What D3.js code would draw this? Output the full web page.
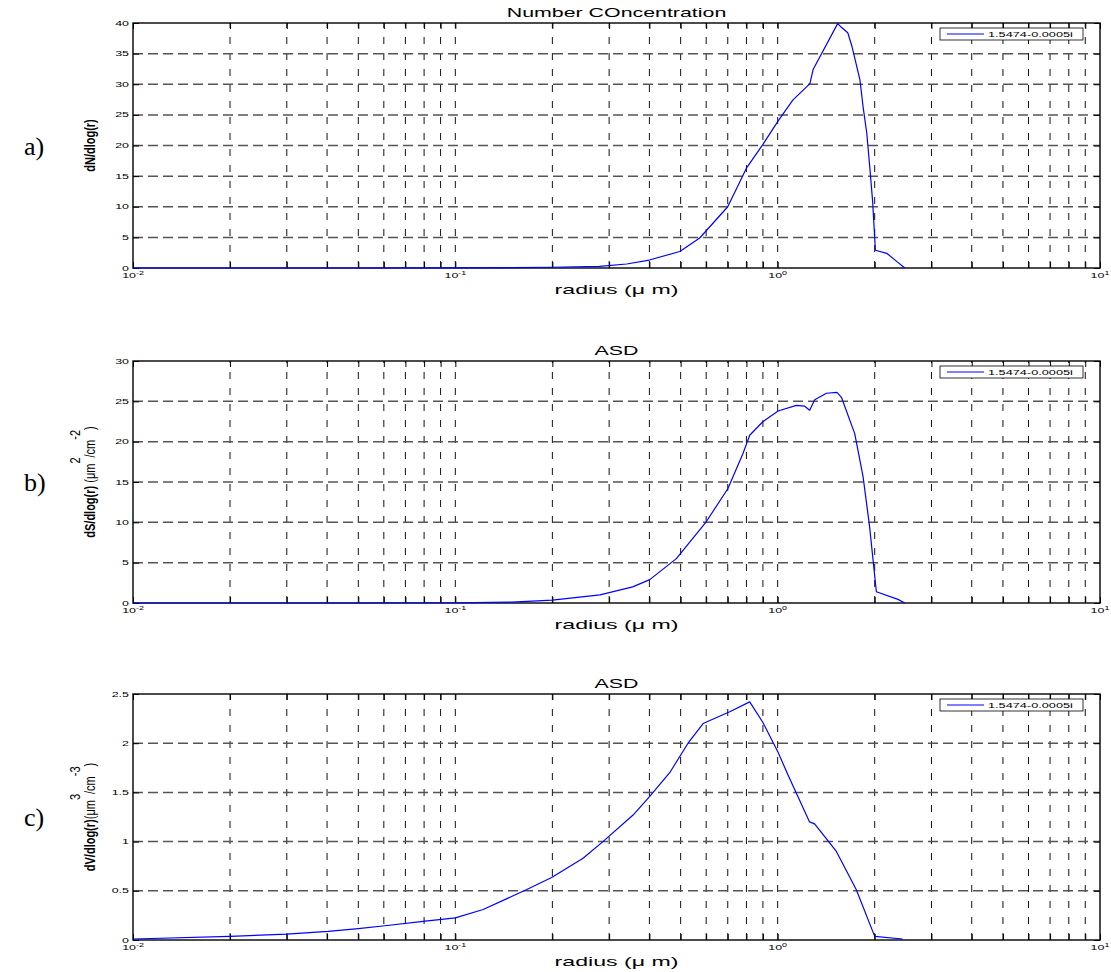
<!DOCTYPE html>
<html>
<head>
<meta charset="utf-8">
<script src="https://cdn.jsdelivr.net/npm/d3@7"></script>
<style>
  body { margin: 0; background: #fff; }
  svg { display: block; }
  .sans { font-family: "Liberation Sans", Arial, Helvetica, sans-serif; }
  .serif { font-family: "Liberation Serif", "Times New Roman", serif; }
</style>
</head>
<body>
<svg id="fig" width="1111" height="972"></svg>
<script>
// ---- data: size distributions for refractive index 1.5474-0.0005i ----
const radiusA    = [0.01, 0.05, 0.1, 0.15, 0.2, 0.28, 0.34, 0.40, 0.497, 0.573, 0.70, 0.80, 0.898, 1.0, 1.114, 1.259, 1.288, 1.535, 1.57, 1.65, 1.70, 1.80, 1.84, 1.89, 1.93, 1.97, 2.01, 2.18, 2.35, 2.48];
const numberConc = [0, 0, 0.02, 0.06, 0.12, 0.25, 0.65, 1.3, 2.7, 4.9, 10.0, 16.3, 20.1, 23.9, 27.4, 30.1, 32.4, 39.9, 39.4, 38.4, 36.2, 30.7, 26.4, 22.0, 16.6, 11.0, 2.9, 2.4, 1.0, 0];

const radiusB  = [0.01, 0.05, 0.1, 0.15, 0.2, 0.281, 0.355, 0.401, 0.485, 0.601, 0.701, 0.780, 0.819, 0.901, 1.003, 1.143, 1.213, 1.257, 1.303, 1.416, 1.528, 1.577, 1.734, 1.840, 1.928, 1.977, 2.024, 2.362, 2.48];
const areaConc = [0, 0, 0.03, 0.12, 0.35, 1.0, 2.0, 2.9, 5.5, 10.1, 14.2, 18.5, 20.8, 22.5, 23.8, 24.5, 24.4, 23.9, 25.2, 26.0, 26.1, 25.5, 21.0, 15.7, 9.5, 5.3, 1.4, 0.45, 0];

const radiusC    = [0.01, 0.02, 0.03, 0.0403, 0.05, 0.0605, 0.0794, 0.1, 0.122, 0.166, 0.199, 0.249, 0.287, 0.356, 0.401, 0.4625, 0.527, 0.587, 0.710, 0.819, 0.900, 1.002, 1.076, 1.256, 1.302, 1.521, 1.754, 2.0, 2.44];
const volumeConc = [0.01, 0.037, 0.06, 0.087, 0.115, 0.145, 0.19, 0.225, 0.31, 0.51, 0.635, 0.83, 1.0, 1.27, 1.46, 1.70, 2.0, 2.20, 2.32, 2.42, 2.21, 1.91, 1.68, 1.20, 1.18, 0.90, 0.51, 0.037, 0.01];

const legendLabel = "1.5474-0.0005i";
const xMajorTicks = [0.01, 0.1, 1, 10];
const xExponents  = ["-2", "-1", "0", "1"];
const yTicksA = [0, 5, 10, 15, 20, 25, 30, 35, 40];
const yTicksB = [0, 5, 10, 15, 20, 25, 30];
const yTicksC = [0, 0.5, 1, 1.5, 2, 2.5];
const panelTags = ["a)", "b)", "c)"];
const titles = ["Number COncentration", "ASD", "ASD"];
const xLabel = "radius (\u03bc m)";

// ---- layout ----
const svg = d3.select("#fig");
const left = 133, right = 1100;
const SX = 1.78;          // horizontal stretch of the sans-serif text
const midX = (left + right) / 2;

const panels = [
  { top: 23,  bottom: 268, r: radiusA, v: numberConc, yTicks: yTicksA, ymax: 40,
    ylab: { main: "dN/dlog(r)", sup: null } },
  { top: 361, bottom: 603, r: radiusB, v: areaConc,   yTicks: yTicksB, ymax: 30,
    ylab: { main: "dS/dlog(r)", rest: " (\u03bcm", sup: ["2", "/cm", "-2", ")"] } },
  { top: 694, bottom: 940, r: radiusC, v: volumeConc, yTicks: yTicksC, ymax: 2.5,
    ylab: { main: "dV/dlog(r)", rest: "(\u03bcm", sup: ["3", "/cm", "-3", ")"] } }
];

const x = d3.scaleLog().domain([0.01, 10]).range([left, right]);
const allXTicks = x.ticks();   // 1..9 in each decade

function stretched(g, tx, ty, sx) {
  return g.append("text").attr("class", "sans")
    .attr("transform", `translate(${tx},${ty}) scale(${sx},1)`);
}

panels.forEach((p, i) => {
  const y = d3.scaleLinear().domain([0, p.ymax]).range([p.bottom, p.top]);
  const g = svg.append("g");

  // grid
  g.append("g").selectAll("line")
    .data(allXTicks.filter(t => t > 0.01 && t < 10))
    .join("line")
    .attr("x1", d => x(d)).attr("x2", d => x(d))
    .attr("y1", p.bottom).attr("y2", p.top)
    .attr("stroke", "#111").attr("stroke-width", 1)
    .attr("stroke-dasharray", "7,9");
  g.append("g").selectAll("line")
    .data(p.yTicks.filter(t => t > 0 && t < p.ymax))
    .join("line")
    .attr("x1", left).attr("x2", right)
    .attr("y1", d => y(d)).attr("y2", d => y(d))
    .attr("stroke", "#555").attr("stroke-width", 1.5)
    .attr("stroke-dasharray", "10,5");

  // inward ticks on all four sides
  const tk = 6;
  const axB = d3.axisBottom(x).tickValues(allXTicks).tickSizeInner(-tk).tickSizeOuter(0).tickFormat("");
  const axT = d3.axisTop(x).tickValues(allXTicks).tickSizeInner(-tk).tickSizeOuter(0).tickFormat("");
  const axL = d3.axisLeft(y).tickValues(p.yTicks).tickSizeInner(-tk).tickSizeOuter(0).tickFormat("");
  const axR = d3.axisRight(y).tickValues(p.yTicks).tickSizeInner(-tk).tickSizeOuter(0).tickFormat("");
  [[axB, `translate(0,${p.bottom})`], [axT, `translate(0,${p.top})`],
   [axL, `translate(${left},0)`], [axR, `translate(${right},0)`]].forEach(([ax, tr]) => {
    const a = g.append("g").attr("transform", tr).call(ax);
    a.select(".domain").remove();
    a.selectAll("line").attr("stroke", "#000").attr("stroke-width", 1);
  });

  // frame
  g.append("rect")
    .attr("x", left).attr("y", p.top)
    .attr("width", right - left).attr("height", p.bottom - p.top)
    .attr("fill", "none").attr("stroke", "#000").attr("stroke-width", 1.4);

  // curve
  const line = d3.line().x(d => x(d[0])).y(d => y(d[1]));
  g.append("path")
    .datum(p.r.map((r, k) => [r, p.v[k]]))
    .attr("d", line)
    .attr("fill", "none").attr("stroke", "#0000ff").attr("stroke-width", 1.2)
    .attr("stroke-linejoin", "round");

  // y tick labels
  p.yTicks.forEach(t => {
    stretched(g, left - 4, y(t) + 2.5, SX)
      .attr("text-anchor", "end").attr("font-size", 7).text(d3.format("~g")(t));
  });

  // x tick labels (powers of ten)
  xMajorTicks.forEach((t, k) => {
    const tx = stretched(g, x(t), p.bottom + 10, SX)
      .attr("text-anchor", "middle").attr("font-size", 7);
    tx.append("tspan").text("10");
    tx.append("tspan").attr("dy", -3).attr("font-size", 5).text(xExponents[k]);
  });

  // title and x label
  stretched(g, midX, p.top - 6, SX).attr("text-anchor", "middle")
    .attr("font-size", 12).text(titles[i]);
  stretched(g, midX, p.bottom + 26, SX).attr("text-anchor", "middle")
    .attr("font-size", 13).text(xLabel);

  // y label (rotated)
  const yl = g.append("text").attr("class", "sans")
    .attr("transform", `translate(95,${(p.top + p.bottom) / 2}) scale(1.4,1) rotate(-90)`)
    .attr("text-anchor", "middle").attr("font-size", 11);
  yl.append("tspan").attr("font-weight", "bold").text(p.ylab.main);
  if (p.ylab.sup) {
    yl.append("tspan").text(p.ylab.rest);
    yl.append("tspan").attr("dy", -11).text(p.ylab.sup[0]);
    yl.append("tspan").attr("dy", 11).text(p.ylab.sup[1]);
    yl.append("tspan").attr("dy", -11).text(p.ylab.sup[2]);
    yl.append("tspan").attr("dy", 11).text(p.ylab.sup[3]);
  }

  // legend
  const lg = g.append("g");
  lg.append("rect").attr("x", 940).attr("y", p.top + 5).attr("width", 143).attr("height", 12)
    .attr("fill", "#fff").attr("stroke", "#000").attr("stroke-width", 0.8);
  lg.append("line").attr("x1", 947).attr("x2", 984)
    .attr("y1", p.top + 11).attr("y2", p.top + 11)
    .attr("stroke", "#0000ff").attr("stroke-width", 1.2);
  stretched(lg, 988, p.top + 14, 1.7).attr("font-size", 7.5).text(legendLabel);

  // panel tag
  svg.append("text").attr("class", "serif")
    .attr("x", 24).attr("y", (p.top + p.bottom) / 2 + 9)
    .attr("font-size", 26).text(panelTags[i]);
});
</script>
</body>
</html>
